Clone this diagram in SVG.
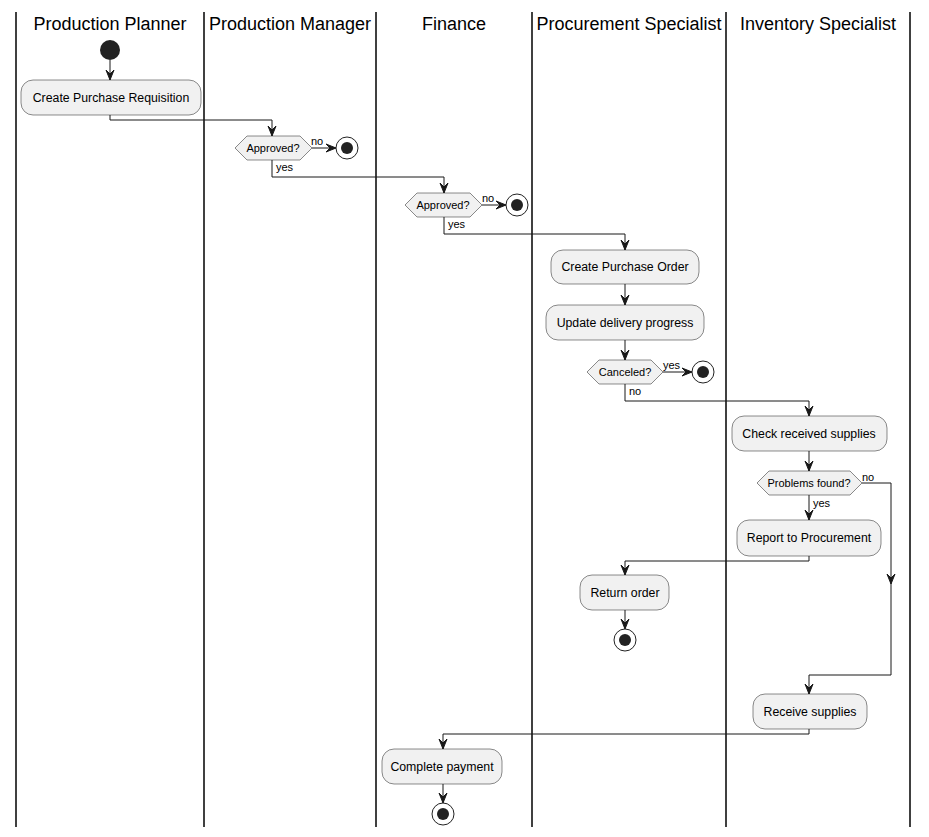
<svg xmlns="http://www.w3.org/2000/svg" width="929" height="837" viewBox="0 0 929 837">
<style>
.lane{stroke:#000;stroke-width:1.5;fill:none}
.title{font-family:"Liberation Sans",Arial,sans-serif;font-size:18px;fill:#000;text-anchor:middle}
.box{fill:#F1F1F1;stroke:#181818;stroke-width:0.5}
.t{font-family:"Liberation Sans",Arial,sans-serif;font-size:12.3px;fill:#000;text-anchor:middle}
.l{font-family:"Liberation Sans",Arial,sans-serif;font-size:11px;fill:#000}
.c{stroke:#181818;stroke-width:1;fill:none}
.ah{fill:#181818;stroke:#181818;stroke-width:1}
.stopo{fill:#fff;stroke:#222;stroke-width:1}
.stopi{fill:#222}
</style>
<defs>
<polygon id="ad" class="ah" points="-4,-10 0,0 4,-10 0,-6"/>
<polygon id="ar" class="ah" points="-10,-4 0,0 -10,4 -6,0"/>
<g id="stop"><circle class="stopo" r="11"/><circle class="stopi" r="6"/></g>
</defs>
<g id="lanes">
<line class="lane" x1="16" y1="12" x2="16" y2="827"/>
<line class="lane" x1="204" y1="12" x2="204" y2="827"/>
<line class="lane" x1="376" y1="12" x2="376" y2="827"/>
<line class="lane" x1="532" y1="12" x2="532" y2="827"/>
<line class="lane" x1="726" y1="12" x2="726" y2="827"/>
<line class="lane" x1="910" y1="12" x2="910" y2="827"/>
<text class="title" x="110" y="30">Production Planner</text>
<text class="title" x="290" y="30">Production Manager</text>
<text class="title" x="454" y="30">Finance</text>
<text class="title" x="629" y="30">Procurement Specialist</text>
<text class="title" x="818" y="30">Inventory Specialist</text>
</g>
<g id="connectors">
<path class="c" d="M110,60 V80"/><use href="#ad" x="110" y="80"/>
<path class="c" d="M110,115 V120 H272 V136"/><use href="#ad" x="272" y="136"/>
<path class="c" d="M312,148 H336"/><use href="#ar" x="336" y="148"/>
<text class="l" x="311" y="145">no</text>
<path class="c" d="M272,160 V177 H444 V193"/><use href="#ad" x="444" y="193"/>
<text class="l" x="276" y="171">yes</text>
<path class="c" d="M482,205 H506"/><use href="#ar" x="506" y="205"/>
<text class="l" x="482" y="202">no</text>
<path class="c" d="M444,217 V234 H625 V250"/><use href="#ad" x="625" y="250"/>
<text class="l" x="448" y="228">yes</text>
<path class="c" d="M625,284 V305"/><use href="#ad" x="625" y="305"/>
<path class="c" d="M625,340 V360"/><use href="#ad" x="625" y="360"/>
<path class="c" d="M663,372 H692"/><use href="#ar" x="692" y="372"/>
<text class="l" x="663" y="369">yes</text>
<path class="c" d="M625,384 V401 H809 V416"/><use href="#ad" x="809" y="416"/>
<text class="l" x="629" y="395">no</text>
<path class="c" d="M809,451 V471"/><use href="#ad" x="809" y="471"/>
<path class="c" d="M862,483 H891 V675 H809 V694"/><use href="#ad" x="891" y="584"/><use href="#ad" x="809" y="694"/>
<text class="l" x="862" y="481">no</text>
<path class="c" d="M809,495 V520"/><use href="#ad" x="809" y="520"/>
<text class="l" x="813" y="507">yes</text>
<path class="c" d="M809,556 V561 H625 V575"/><use href="#ad" x="625" y="575"/>
<path class="c" d="M625,610 V629"/><use href="#ad" x="625" y="629"/>
<path class="c" d="M809,729 V734 H443 V749"/><use href="#ad" x="443" y="749"/>
<path class="c" d="M443,784 V803"/><use href="#ad" x="443" y="803"/>
</g>
<g id="start"><circle cx="110" cy="50" r="10" fill="#222"/></g>
<g id="n1"><rect class="box" x="21" y="80" width="180" height="35" rx="12"/><text class="t" x="111" y="102">Create Purchase Requisition</text></g>
<g id="d1"><polygon class="box" points="235,148 247,136 300,136 312,148 300,160 247,160"/><text class="t" x="273" y="152" style="font-size:11px">Approved?</text></g>
<g id="s1"><use href="#stop" x="347" y="148"/></g>
<g id="d2"><polygon class="box" points="405,205 417,193 470,193 482,205 470,217 417,217"/><text class="t" x="443" y="209" style="font-size:11px">Approved?</text></g>
<g id="s2"><use href="#stop" x="517" y="205"/></g>
<g id="n2"><rect class="box" x="551" y="250" width="148" height="34" rx="12"/><text class="t" x="625" y="271">Create Purchase Order</text></g>
<g id="n3"><rect class="box" x="546" y="305" width="158" height="35" rx="12"/><text class="t" x="625" y="327">Update delivery progress</text></g>
<g id="d3"><polygon class="box" points="587,372 599,360 651,360 663,372 651,384 599,384"/><text class="t" x="625" y="376" style="font-size:11px">Canceled?</text></g>
<g id="s3"><use href="#stop" x="703" y="372"/></g>
<g id="n4"><rect class="box" x="732" y="416" width="155" height="35" rx="12"/><text class="t" x="809" y="438">Check received supplies</text></g>
<g id="d4"><polygon class="box" points="757,483 769,471 850,471 862,483 850,495 769,495"/><text class="t" x="809" y="487" style="font-size:11px">Problems found?</text></g>
<g id="n5"><rect class="box" x="737" y="520" width="144" height="36" rx="12"/><text class="t" x="809" y="542">Report to Procurement</text></g>
<g id="n6"><rect class="box" x="580" y="575" width="89" height="35" rx="12"/><text class="t" x="625" y="597">Return order</text></g>
<g id="s4"><use href="#stop" x="625" y="640"/></g>
<g id="n7"><rect class="box" x="753" y="694" width="114" height="35" rx="12"/><text class="t" x="810" y="716">Receive supplies</text></g>
<g id="n8"><rect class="box" x="382" y="749" width="120" height="35" rx="12"/><text class="t" x="442" y="771">Complete payment</text></g>
<g id="s5"><use href="#stop" x="443" y="814"/></g>
</svg>
